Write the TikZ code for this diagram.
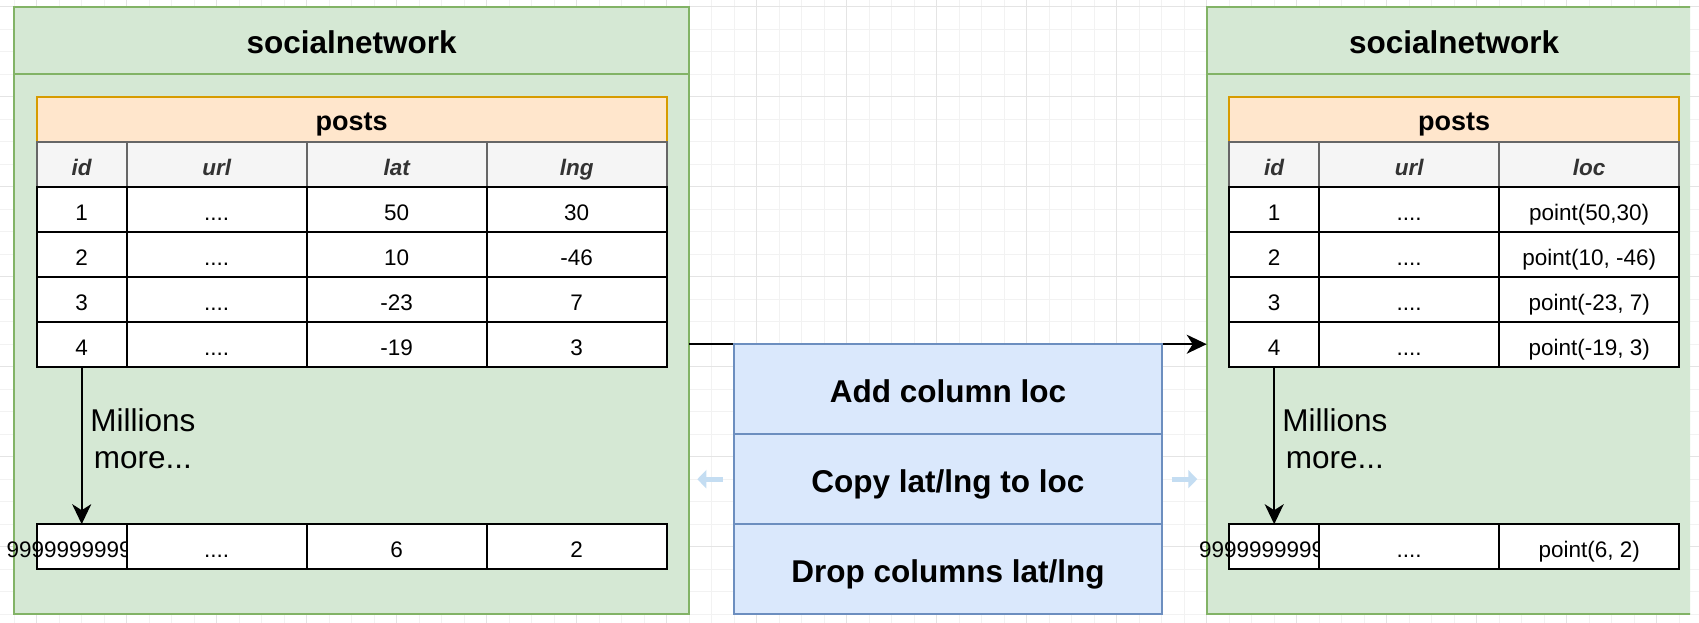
\documentclass[tikz,border=0pt]{standalone}
\usepackage{fontspec}
\setmainfont{Liberation Sans}
\usetikzlibrary{arrows.meta}
\definecolor{cgreen}{HTML}{D5E8D4}
\definecolor{cgreenb}{HTML}{82B366}
\definecolor{corange}{HTML}{FFE6CC}
\definecolor{corangeb}{HTML}{D79B00}
\definecolor{cgray}{HTML}{F5F5F5}
\definecolor{cgrayb}{HTML}{666666}
\definecolor{ctxt}{HTML}{333333}
\definecolor{cblue}{HTML}{DAE8FC}
\definecolor{cblueb}{HTML}{6C8EBF}
\definecolor{cgridminor}{HTML}{F2F2F2}
\definecolor{cgridmajor}{HTML}{E4E4E4}
\definecolor{chover}{HTML}{C4DDF2}
% [style]{name}{x1}{y1}{x2}{y2}{text}
\newcommand{\mybox}[7][]{\node[#1, minimum width={((#5)-(#3))*2.25pt}, minimum height={((#6)-(#4))*2.25pt}] (#2) at ({((#3)+(#5))/2},{((#4)+(#6))/2}) {#7};}
\tikzset{
  basebox/.style={rectangle, inner sep=0pt, outer sep=0pt},
  container/.style={basebox, fill=cgreen, draw=cgreenb, line width=1.8pt},
  ctitle/.style={container, font=\bfseries\fontsize{31.5pt}{37pt}\selectfont, text height=33.5pt, text depth=7.9pt},
  tabtitle/.style={basebox, fill=corange, draw=corangeb, line width=1.8pt, font=\bfseries\fontsize{27pt}{32pt}\selectfont, text height=28.4pt, text depth=6.8pt},
  colhead/.style={basebox, fill=cgray, draw=cgrayb, line width=1.8pt, text=ctxt, font=\bfseries\itshape\fontsize{22.5pt}{27pt}\selectfont, text height=28.6pt, text depth=5.6pt},
  cell/.style={basebox, fill=white, draw=black, line width=2.2pt, font=\fontsize{22.5pt}{27pt}\selectfont, text height=27.6pt, text depth=5.6pt},
  stepbox/.style={basebox, fill=cblue, draw=cblueb, line width=1.8pt, font=\bfseries\fontsize{31.5pt}{37pt}\selectfont, text height=34.9pt, text depth=7.9pt},
  note/.style={inner sep=0pt, align=center, font=\fontsize{31.5pt}{37pt}\selectfont},
  arr/.style={line width=2pt, -{Stealth[length=20pt, width=19pt, inset=6pt]}},
  hover/.style={line width=5pt, draw=chover, -{Triangle[length=9pt, width=18pt]}},
  gridminor/.style={draw=cgridminor, line width=0.9pt},
  gridmajor/.style={draw=cgridmajor, line width=1pt},
}
\begin{document}
\begin{tikzpicture}[x=2.25pt, y=-2.25pt]
\useasboundingbox[fill=white] (-6.3111,-2.9778) rectangle (748.8,273.91);
% background grid
\foreach \i in {0,10,...,740} \draw[gridminor] (\i,-2.9778) -- (\i,273.91);
\foreach \j in {0,10,...,270} \draw[gridminor] (-6.3111,\j) -- (748.8,\j);
\foreach \i in {10,50,...,730} \draw[gridmajor] (\i,-2.9778) -- (\i,273.91);
\foreach \j in {0,40,...,240} \draw[gridmajor] (-6.3111,\j) -- (748.8,\j);

% containers
\mybox[container]{Lbody}{0}{30}{300}{270}{}
\mybox[ctitle]{Lhead}{0}{0}{300}{30}{socialnetwork}
\begin{scope}
\clip (-10,-10) rectangle (744.8,280);
\mybox[container]{Rbody}{530}{30}{750}{270}{}
\mybox[ctitle]{Rhead}{530}{0}{750}{30}{socialnetwork}
\end{scope}

% main connector (passes under the steps box)
\draw[arr] (Lbody.east) -- (Rbody.west);

% steps
\mybox[stepbox]{S1}{320}{150}{510}{190}{Add column loc}
\mybox[stepbox]{S2}{320}{190}{510}{230}{Copy lat/lng to loc}
\mybox[stepbox]{S3}{320}{230}{510}{270}{Drop columns lat/lng}

% faint hover arrows
\coordinate (hla) at (314.9,210);
\coordinate (hlb) at (303.6,210);
\coordinate (hra) at (514.4,210);
\coordinate (hrb) at (525.8,210);
\draw[hover] (hla) -- (hlb);
\draw[hover] (hra) -- (hrb);

% left table
\mybox[tabtitle]{Lposts}{10}{40}{290}{60}{posts}
\mybox[colhead]{Lh1}{10}{60}{50}{80}{id}
\mybox[colhead]{Lh2}{50}{60}{130}{80}{url}
\mybox[colhead]{Lh3}{130}{60}{210}{80}{lat}
\mybox[colhead]{Lh4}{210}{60}{290}{80}{lng}
\foreach \r/\y/\a/\b in {1/80/50/30, 2/100/10/-46, 3/120/-23/7, 4/140/-19/3}{
  \mybox[cell]{L\r1}{10}{\y}{50}{\y+20}{\r}
  \mybox[cell]{L\r2}{50}{\y}{130}{\y+20}{....}
  \mybox[cell]{L\r3}{130}{\y}{210}{\y+20}{\a}
  \mybox[cell]{L\r4}{210}{\y}{290}{\y+20}{\b}
}
\mybox[cell]{L91}{10}{230}{50}{250}{\makebox[0pt]{999999999999}}
\mybox[cell]{L92}{50}{230}{130}{250}{....}
\mybox[cell]{L93}{130}{230}{210}{250}{6}
\mybox[cell]{L94}{210}{230}{290}{250}{2}
\draw[arr] (L41.south) -- (L91.north);
\node[note] (Lmore) at (57.2,192.1) {Millions\\more...};

% right table
\mybox[tabtitle]{Rposts}{540}{40}{740}{60}{posts}
\mybox[colhead]{Rh1}{540}{60}{580}{80}{id}
\mybox[colhead]{Rh2}{580}{60}{660}{80}{url}
\mybox[colhead]{Rh3}{660}{60}{740}{80}{loc}
\foreach \r/\y/\p in {1/80/{point(50,30)}, 2/100/{point(10, -46)}, 3/120/{point(-23, 7)}, 4/140/{point(-19, 3)}}{
  \mybox[cell]{R\r1}{540}{\y}{580}{\y+20}{\r}
  \mybox[cell]{R\r2}{580}{\y}{660}{\y+20}{....}
  \mybox[cell]{R\r3}{660}{\y}{740}{\y+20}{\p}
}
\mybox[cell]{R91}{540}{230}{580}{250}{\makebox[0pt]{999999999999}}
\mybox[cell]{R92}{580}{230}{660}{250}{....}
\mybox[cell]{R93}{660}{230}{740}{250}{point(6, 2)}
\draw[arr] (R41.south) -- (R91.north);
\node[note] (Rmore) at (587,192.1) {Millions\\more...};
\end{tikzpicture}
\end{document}
